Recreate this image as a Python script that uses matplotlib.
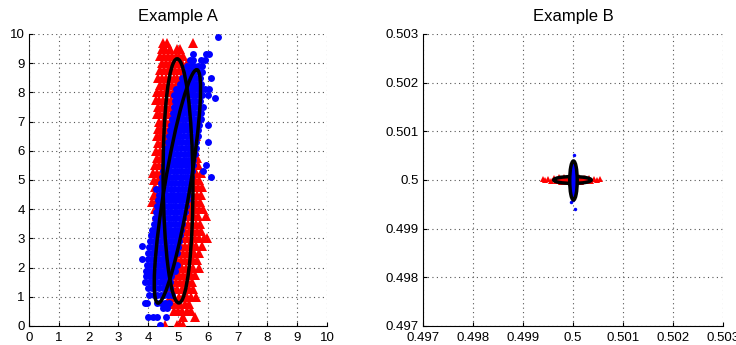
import matplotlib
matplotlib.use("Agg")
import matplotlib.pyplot as plt
from matplotlib.patches import Ellipse

plt.rcParams["font.family"] = ["Liberation Sans", "DejaVu Sans"]

# ---- Example A: red triangles, rows of x values keyed by y ----
red_a_rows = {
    9.7: [4.5, 4.62, 5.5],
    9.5: [4.45, 4.58, 4.72, 4.98, 5.08],
    9.25: [4.4, 4.53, 4.66, 4.79, 4.92, 5.05, 5.18],
    9.0: [4.46, 4.6, 4.73, 4.86, 4.99, 5.12, 5.3],
    8.75: [4.38, 4.52, 4.65, 4.78, 4.91, 5.04, 5.17, 5.36],
    8.5: [4.33, 4.46, 4.59, 4.72, 4.85, 4.98, 5.11, 5.24, 5.42],
    8.25: [4.4, 4.53, 4.66, 4.79, 4.92, 5.05, 5.18, 5.31, 5.47],
    8.0: [4.3, 4.44, 4.57, 4.7, 4.83, 4.96, 5.09, 5.22, 5.5],
    7.75: [4.27, 4.37, 4.5, 4.63, 4.76, 4.89, 5.02, 5.15],
    7.5: [4.34, 4.47, 4.6, 4.73, 4.86, 4.99, 5.12],
    7.25: [4.3, 4.41, 4.54, 4.67, 4.8, 4.93, 5.06],
    7.0: [4.35, 4.48, 4.61, 4.74, 4.87, 5.0, 5.62],
    6.75: [4.32, 4.44, 4.57, 4.7, 4.83, 4.96],
    6.5: [4.28, 4.38, 4.51, 4.64, 4.77, 4.9, 5.6],
    6.25: [4.33, 4.46, 4.59, 4.72, 4.85],
    6.0: [4.26, 4.4, 4.53, 4.66, 4.8, 5.58],
    5.75: [4.3, 4.44, 4.57, 4.7, 5.55, 5.65],
    5.5: [4.22, 4.36, 4.49, 4.62, 5.52, 5.68],
    5.25: [4.16, 4.3, 4.43, 4.56, 5.5, 5.62, 5.76],
    5.0: [4.2, 4.34, 4.47, 5.46, 5.58, 5.72],
    4.75: [4.24, 4.38, 4.5, 5.42, 5.55, 5.68, 5.82],
    4.5: [4.18, 4.3, 4.44, 5.4, 5.52, 5.65, 5.78],
    4.25: [4.14, 4.27, 4.4, 5.36, 5.48, 5.62, 5.74],
    4.0: [4.22, 4.35, 4.48, 5.32, 5.45, 5.58, 5.7, 5.85],
    3.75: [4.3, 4.42, 5.28, 5.4, 5.53, 5.66, 5.95],
    3.5: [4.36, 4.5, 5.2, 5.33, 5.46, 5.6, 5.75],
    3.25: [4.42, 5.12, 5.25, 5.38, 5.51, 5.64, 5.78],
    3.0: [4.48, 5.04, 5.17, 5.3, 5.43, 5.56, 5.7, 5.88, 5.97],
    2.75: [4.55, 4.98, 5.1, 5.23, 5.36, 5.49, 5.62, 5.8],
    2.5: [4.6, 4.9, 5.03, 5.16, 5.29, 5.42, 5.55, 5.72],
    2.25: [4.52, 4.66, 4.84, 4.97, 5.1, 5.23, 5.36, 5.49, 5.64],
    2.0: [4.58, 4.72, 4.86, 5.0, 5.13, 5.26, 5.39, 5.52, 5.7],
    1.75: [4.62, 4.76, 4.9, 5.04, 5.17, 5.3, 5.43, 5.58],
    1.5: [4.66, 4.8, 4.94, 5.08, 5.21, 5.34, 5.48],
    1.25: [4.7, 4.84, 4.98, 5.12, 5.25, 5.38, 5.52],
    1.0: [4.74, 4.88, 5.02, 5.16, 5.29, 5.42, 5.6],
    0.75: [4.8, 4.94, 5.08, 5.22, 5.36],
    0.5: [4.86, 5.0, 5.14, 5.3, 5.42],
    0.3: [5.18, 5.58],
    0.05: [4.55, 4.98, 5.08, 5.18],
}

# ---- Example A: blue dots ----
blue_a_rows = {
    9.9: [6.35],
    9.3: [5.52, 5.95, 6.05],
    9.1: [5.4, 5.5, 5.78, 5.9],
    8.9: [5.3, 5.42, 5.54, 5.66, 5.8],
    8.7: [5.22, 5.34, 5.46, 5.58, 5.7, 5.82],
    8.5: [5.14, 5.26, 5.38, 5.5, 5.62, 5.74, 6.1],
    8.3: [5.06, 5.18, 5.3, 5.42, 5.54, 5.66, 5.78],
    8.1: [4.92, 5.04, 5.16, 5.28, 5.4, 5.52, 5.64, 5.76, 5.9, 6.05],
    7.9: [4.86, 4.98, 5.1, 5.22, 5.34, 5.46, 5.58, 5.7, 5.82, 6.0],
    7.8: [6.25],
    7.7: [4.9, 5.02, 5.14, 5.26, 5.38, 5.5, 5.62, 5.74],
    7.5: [4.86, 4.98, 5.1, 5.22, 5.34, 5.46, 5.58, 5.7, 5.84],
    7.3: [4.82, 4.94, 5.06, 5.18, 5.3, 5.42, 5.54, 5.66, 5.78],
    7.1: [4.8, 4.92, 5.04, 5.16, 5.28, 5.4, 5.52, 5.64, 5.76],
    6.9: [4.76, 4.88, 5.0, 5.12, 5.24, 5.36, 5.48, 5.6, 5.72, 6.0],
    6.7: [4.72, 4.84, 4.96, 5.08, 5.2, 5.32, 5.44, 5.56, 5.68],
    6.5: [4.7, 4.82, 4.94, 5.06, 5.18, 5.3, 5.42, 5.54, 5.66],
    6.3: [4.66, 4.78, 4.9, 5.02, 5.14, 5.26, 5.38, 5.5, 5.62, 6.0],
    6.1: [4.62, 4.74, 4.86, 4.98, 5.1, 5.22, 5.34, 5.46, 5.6],
    5.9: [4.6, 4.72, 4.84, 4.96, 5.08, 5.2, 5.32, 5.44, 5.56],
    5.7: [4.56, 4.68, 4.8, 4.92, 5.04, 5.16, 5.28, 5.4, 5.52],
    5.5: [4.54, 4.66, 4.78, 4.9, 5.02, 5.14, 5.26, 5.38, 5.5, 5.95],
    5.3: [4.5, 4.62, 4.74, 4.86, 4.98, 5.1, 5.22, 5.34, 5.46, 5.85],
    5.1: [4.46, 4.58, 4.7, 4.82, 4.94, 5.06, 5.18, 5.3, 5.42, 6.1],
    4.9: [4.42, 4.54, 4.66, 4.78, 4.9, 5.02, 5.14, 5.26, 5.38],
    4.7: [4.25, 4.4, 4.52, 4.64, 4.76, 4.88, 5.0, 5.12, 5.24, 5.36],
    4.5: [4.36, 4.48, 4.6, 4.72, 4.84, 4.96, 5.08, 5.2, 5.32],
    4.3: [4.34, 4.46, 4.58, 4.7, 4.82, 4.94, 5.06, 5.18, 5.3],
    4.1: [4.3, 4.42, 4.54, 4.66, 4.78, 4.9, 5.02, 5.14, 5.26],
    3.9: [4.26, 4.38, 4.5, 4.62, 4.74, 4.86, 4.98, 5.1, 5.22],
    3.7: [4.22, 4.34, 4.46, 4.58, 4.7, 4.82, 4.94, 5.06, 5.18],
    3.5: [4.18, 4.3, 4.42, 4.54, 4.66, 4.78, 4.9, 5.02, 5.14],
    3.3: [4.14, 4.26, 4.38, 4.5, 4.62, 4.74, 4.86, 4.98, 5.1],
    3.1: [4.1, 4.22, 4.34, 4.46, 4.58, 4.7, 4.82, 4.94, 5.06],
    2.9: [4.06, 4.18, 4.3, 4.42, 4.54, 4.66, 4.78, 4.9, 5.02],
    2.75: [3.8],
    2.7: [4.04, 4.16, 4.28, 4.4, 4.52, 4.64, 4.76, 4.88, 5.0],
    2.5: [4.0, 4.12, 4.24, 4.36, 4.48, 4.6, 4.72, 4.84, 4.96],
    2.3: [3.8, 3.98, 4.1, 4.22, 4.34, 4.46, 4.58, 4.7, 4.82],
    2.1: [3.96, 4.08, 4.2, 4.32, 4.44, 4.56, 4.68, 4.8, 4.95],
    1.9: [3.92, 4.04, 4.16, 4.28, 4.4, 4.52, 4.64, 4.76, 4.9],
    1.7: [3.94, 4.06, 4.18, 4.3, 4.42, 4.54, 4.66, 4.78],
    1.5: [3.9, 4.02, 4.14, 4.26, 4.38, 4.5, 4.62, 4.74],
    1.3: [4.0, 4.12, 4.24, 4.36, 4.48, 4.6, 4.72],
    1.05: [4.02, 4.18, 4.3, 4.42, 4.54, 4.66, 4.8],
    0.8: [3.88, 3.96, 4.28, 4.42, 4.56, 4.7],
    0.6: [4.5, 4.62],
    0.3: [4.0, 4.15, 4.3, 4.6],
    0.05: [4.4],
}

# ---- Example B: red triangles and blue dots ----
red_b_x = [0.49940, 0.49944, 0.49950, 0.49956, 0.49962, 0.49967, 0.49972,
           0.49977, 0.49982, 0.49987, 0.49992, 0.49997, 0.50002, 0.50007,
           0.50012, 0.50017, 0.50022, 0.50027, 0.50032, 0.50037, 0.50042,
           0.50048, 0.50055, 0.49975, 0.49985, 0.50015, 0.50025]
red_b_y = [0.50003, 0.49999, 0.50001, 0.49998, 0.50004, 0.49997, 0.50006,
           0.49995, 0.50007, 0.49996, 0.50005, 0.49994, 0.50006, 0.49995,
           0.50007, 0.49996, 0.50005, 0.49997, 0.50004, 0.49998, 0.50002,
           0.49999, 0.50002, 0.50004, 0.49996, 0.49995, 0.50005]
blue_b_x = [0.50002, 0.50000, 0.49999, 0.50001, 0.50003, 0.49998, 0.50000,
            0.50002, 0.49999, 0.50001, 0.50000, 0.49998, 0.50002, 0.50001,
            0.49999, 0.50000, 0.50003, 0.49998, 0.50005, 0.49997, 0.50001]
blue_b_y = [0.50051, 0.50038, 0.50032, 0.50026, 0.50020, 0.50014, 0.50008,
            0.50003, 0.49998, 0.49992, 0.49986, 0.49980, 0.49974, 0.49968,
            0.49962, 0.49958, 0.50017, 0.50011, 0.49941, 0.49955, 0.49990]

# ellipses: (cx, cy, width, height, angle_deg)
ellipses_a = [(5.0, 4.97, 1.0, 8.36, 0.4), (4.98, 4.78, 0.85, 8.1, -9.3)]
ellipses_b = [(0.49999, 0.5, 0.00075, 0.00014, 0.0),
              (0.50001, 0.49999, 0.00015, 0.0008, 0.0)]


def rows_to_xy(rows):
    xs, ys = [], []
    for y, xlist in rows.items():
        for x in xlist:
            xs.append(x)
            ys.append(y)
    return xs, ys


def style_axes(ax, ticks, labels, title):
    ax.set_xticks(ticks)
    ax.set_yticks(ticks)
    ax.set_xticklabels(labels)
    ax.set_yticklabels(labels)
    ax.set_xlim(ticks[0], ticks[-1])
    ax.set_ylim(ticks[0], ticks[-1])
    ax.grid(True, linestyle=(0, (1, 3)), color="#555555", linewidth=0.8)
    ax.spines["top"].set_visible(False)
    ax.spines["right"].set_visible(False)
    ax.tick_params(direction="in", length=3, labelsize=9.5)
    ax.tick_params(axis="x", pad=4)
    ax.tick_params(axis="y", pad=3)
    ax.set_title(title, fontsize=12, pad=9)


fig = plt.figure(figsize=(7.36, 3.45), dpi=100)
ax1 = fig.add_axes([0.0394, 0.0551, 0.4049, 0.8464])
ax2 = fig.add_axes([0.5747, 0.0551, 0.4076, 0.8464])

rx, ry = rows_to_xy(red_a_rows)
bx, by = rows_to_xy(blue_a_rows)
ax1.plot(rx, ry, "^", color="red", markersize=7, markeredgewidth=0, zorder=3)
ax1.plot(bx, by, "o", color="blue", markersize=5, markeredgewidth=0, zorder=4)
for cx, cy, w, h, ang in ellipses_a:
    ax1.add_patch(Ellipse((cx, cy), w, h, angle=ang, fill=False,
                          edgecolor="black", linewidth=2.5, zorder=5))
ticks_a = list(range(11))
style_axes(ax1, ticks_a, [str(t) for t in ticks_a], "Example A")

ax2.plot(red_b_x, red_b_y, "^", color="red", markersize=4, markeredgewidth=0, zorder=3)
ax2.plot(blue_b_x, blue_b_y, "o", color="blue", markersize=2.5, markeredgewidth=0, zorder=4)
for cx, cy, w, h, ang in ellipses_b:
    ax2.add_patch(Ellipse((cx, cy), w, h, angle=ang, facecolor="red" if w > h else "blue",
                          edgecolor="black", linewidth=2.5, zorder=5 if w > h else 6))
ticks_b = [0.497, 0.498, 0.499, 0.5, 0.501, 0.502, 0.503]
style_axes(ax2, ticks_b, ["0.497", "0.498", "0.499", "0.5", "0.501", "0.502", "0.503"],
           "Example B")

fig.savefig("out.png", dpi=100)
